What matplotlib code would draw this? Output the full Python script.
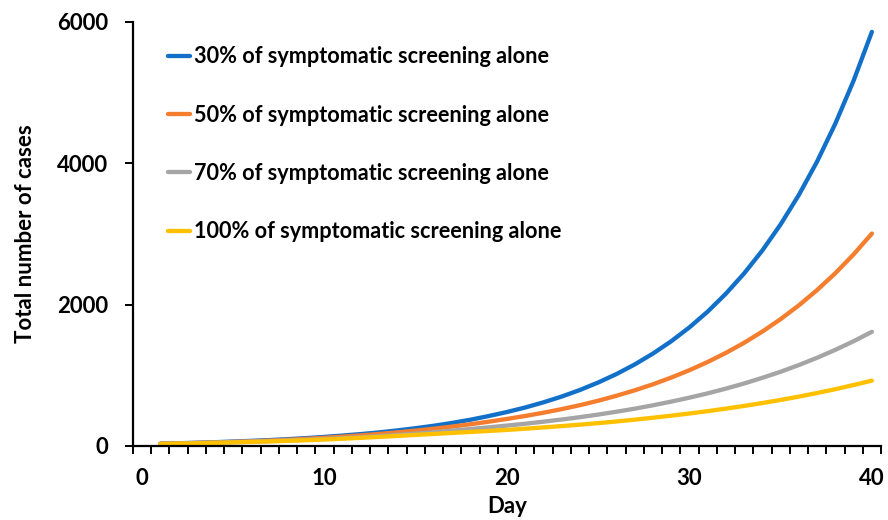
import numpy as np
import matplotlib
matplotlib.use("Agg")
import matplotlib.pyplot as plt
from matplotlib.ticker import FixedLocator

# values, days 1..40
days = list(range(1, 41))
cases_30 = [33, 39, 46, 54, 63, 73, 84, 97, 112, 129, 148, 169, 193, 221, 252, 287, 327, 372, 424, 481,
            545, 618, 700, 793, 899, 1018, 1154, 1308, 1482, 1679, 1902, 2156, 2443, 2768, 3137, 3554, 4027, 4564, 5171, 5860]
cases_50 = [32, 37, 43, 50, 58, 67, 77, 89, 102, 117, 133, 151, 171, 193, 218, 245, 275, 308, 344, 383,
            425, 471, 522, 578, 641, 711, 788, 873, 968, 1073, 1189, 1318, 1461, 1620, 1796, 1991, 2207, 2446, 2712, 3006]
cases_70 = [31, 36, 42, 48, 55, 62, 70, 79, 89, 100, 112, 125, 140, 157, 175, 195, 217, 240, 264, 289,
            315, 344, 375, 408, 445, 485, 528, 576, 628, 684, 745, 812, 885, 965, 1051, 1146, 1249, 1361, 1483, 1616]
cases_100 = [29, 34, 39, 45, 51, 58, 65, 73, 82, 92, 103, 116, 129, 143, 157, 171, 185, 199, 213, 228,
             245, 263, 282, 302, 324, 347, 373, 400, 429, 460, 493, 529, 567, 608, 652, 699, 750, 804, 863, 925]

labels = ["30% of symptomatic screening alone", "50% of symptomatic screening alone",
          "70% of symptomatic screening alone", "100% of symptomatic screening alone"]
colors = ["#1270C8", "#F47D2E", "#A5A5A5", "#FFC000"]

plt.rcParams['font.family'] = ['Lato', 'DejaVu Sans']
plt.rcParams['font.weight'] = 'bold'

fig = plt.figure(figsize=(8.88, 5.2), dpi=100)
ax = fig.add_axes([133/888, 1-446/520, (881-133)/888, (446-22)/520])

for ys, lab, c in zip([cases_30, cases_50, cases_70, cases_100], labels, colors):
    ax.plot(days, ys, color=c, lw=3.1, label=lab, solid_capstyle='round')

ax.set_xlim(-0.5, 40.5)
ax.set_ylim(0, 6000)
ax.spines['top'].set_visible(False)
ax.spines['right'].set_visible(False)
for s in ['left', 'bottom']:
    ax.spines[s].set_linewidth(1.6)
    ax.spines[s].set_color('black')

ax.xaxis.set_major_locator(FixedLocator([0, 10, 20, 30, 40]))
ax.xaxis.set_minor_locator(FixedLocator(np.arange(-0.5, 41, 1)))
ax.tick_params(axis='x', which='major', length=0, pad=16, labelsize=16)
ax.tick_params(axis='x', which='minor', length=6, width=1.4, direction='out')
ax.yaxis.set_major_locator(FixedLocator([0, 2000, 4000, 6000]))
ax.tick_params(axis='y', which='major', length=6, width=1.4, direction='out', pad=12, labelsize=16)

ax.set_xlabel("Day", fontsize=16, fontweight='bold', labelpad=5)
ax.set_ylabel("Total number of cases", fontsize=16, fontweight='bold', labelpad=15)

ax.legend(loc='upper left', bbox_to_anchor=(0.035, 0.963), frameon=False, fontsize=15.6,
          handlelength=1.0, handletextpad=0.2, labelspacing=1.72, borderaxespad=0)

fig.savefig("out.png", dpi=100)
